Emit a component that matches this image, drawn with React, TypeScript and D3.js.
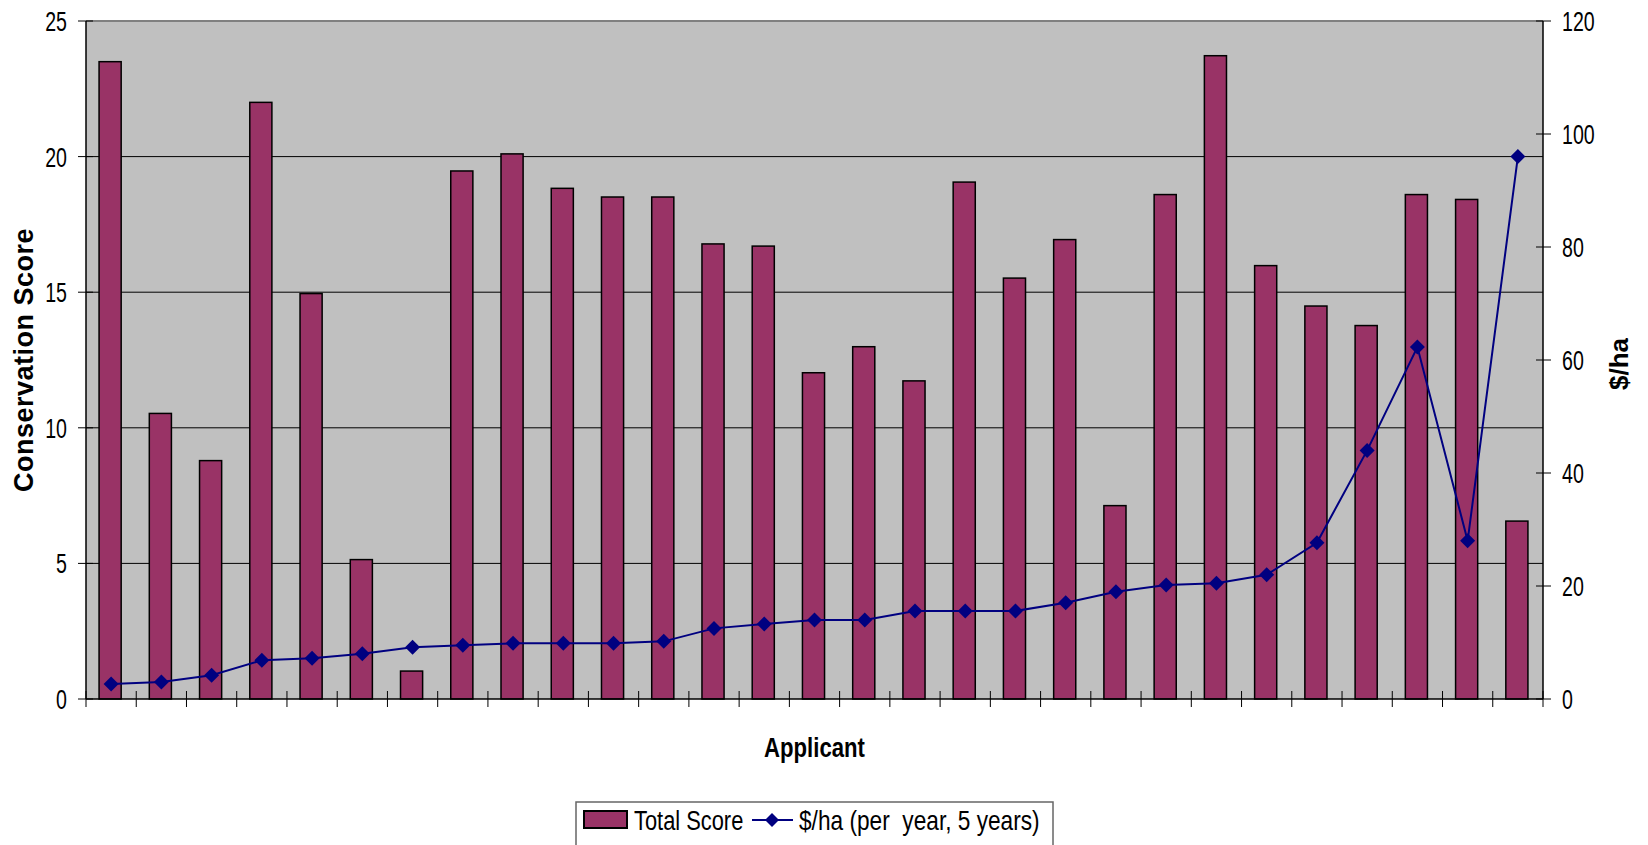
import React from "react";
import * as d3 from "d3";

const applicants = [
  "1","2","3","4","5","6","7","8","9","10","11","12","13","14","15",
  "16","17","18","19","20","21","22","23","24","25","26","27","28","29",
];
const totalScore = [
  23.5, 10.53, 8.79, 22.0, 14.95, 5.14, 1.03, 19.47, 20.1, 18.83, 18.51, 18.51,
  16.78, 16.7, 12.03, 12.99, 11.73, 19.06, 15.52, 16.94, 7.13, 18.6, 23.72,
  15.98, 14.49, 13.77, 18.6, 18.42, 6.56,
];
const dollarsPerHa = [
  2.65, 3.0, 4.19, 6.85, 7.2, 8.0, 9.15, 9.5, 9.86, 9.86, 9.86, 10.2, 12.5,
  13.27, 13.98, 13.98, 15.58, 15.58, 15.58, 17.05, 19.0, 20.18, 20.47, 22.0,
  27.66, 44.0, 62.3, 28.0, 96.0,
];
const leftTicks = [0, 5, 10, 15, 20, 25];
const rightTicks = [0, 20, 40, 60, 80, 100, 120];
const barLabel = "Total Score";
const lineLabel = "$/ha (per  year, 5 years)";
const yTitleLeft = "Conservation Score";
const yTitleRight = "$/ha";
const xTitle = "Applicant";

const W = 1648;
const H = 845;
const L = 86;
const R = 1543;
const T = 21;
const B = 699;
const FONT = "'Liberation Sans', Arial, sans-serif";
const BAR = "#993366";
const NAVY = "#000080";

function Txt(props: {
  x: number;
  y: number;
  sx?: number;
  size?: number;
  anchor?: string;
  bold?: boolean;
  rotate?: number;
  spacing?: number;
  children: React.ReactNode;
}) {
  const { x, y, sx = 0.7, size = 28, anchor = "start", bold, rotate = 0, spacing = 0 } = props;
  return (
    <text
      transform={`translate(${x},${y}) rotate(${rotate}) scale(${sx},1)`}
      textAnchor={anchor}
      fontFamily={FONT}
      fontSize={size}
      fontWeight={bold ? "bold" : "normal"}
      letterSpacing={spacing}
      fill="#000"
      style={{ whiteSpace: "pre" }}
    >
      {props.children}
    </text>
  );
}

function diamond(cx: number, cy: number, r: number) {
  return `M${cx},${cy - r}L${cx + r},${cy}L${cx},${cy + r}L${cx - r},${cy}Z`;
}

export default function App() {
  const x = d3.scaleBand<string>().domain(applicants).range([L, R]).padding(0);
  const bw = x.bandwidth();
  const barW = bw * 0.44;
  const yL = d3.scaleLinear().domain([0, 25]).range([B, T]);
  const yR = d3.scaleLinear().domain([0, 120]).range([B, T]);
  const cx = (a: string) => (x(a) as number) + bw / 2;

  const line = d3
    .line<number>()
    .x((_, i) => cx(applicants[i]))
    .y((d) => yR(d));

  return (
    <svg
      width={W}
      height={H}
      style={{ position: "absolute", left: 0, top: 0, background: "#fff" }}
    >
      {/* plot background */}
      <rect x={L} y={T} width={R - L} height={B - T} fill="#C0C0C0" />
      {/* gridlines */}
      {leftTicks
        .filter((t) => t > 0 && t < 25)
        .map((t) => (
          <line key={t} x1={L} x2={R} y1={yL(t)} y2={yL(t)} stroke="#000" strokeWidth={1} />
        ))}
      {/* top border */}
      <line x1={L} x2={R} y1={T} y2={T} stroke="#808080" strokeWidth={2} />

      {/* bars */}
      {totalScore.map((v, i) => {
        const a = applicants[i];
        return (
          <rect
            key={a}
            x={cx(a) - barW / 2 - 1}
            y={yL(v)}
            width={barW}
            height={B - yL(v)}
            fill={BAR}
            stroke="#000"
            strokeWidth={1.5}
          />
        );
      })}

      {/* axes */}
      <line x1={L} x2={L} y1={T} y2={B} stroke="#000" strokeWidth={1.5} />
      <line x1={R} x2={R} y1={T} y2={B} stroke="#000" strokeWidth={1.5} />
      <line x1={L} x2={R} y1={B} y2={B} stroke="#000" strokeWidth={1.5} />

      {/* x ticks at band boundaries */}
      {applicants.concat(["end"]).map((a, i) => {
        const xx = i < applicants.length ? (x(a) as number) : R;
        return <line key={"xt" + i} x1={xx} x2={xx} y1={691} y2={707} stroke="#000" strokeWidth={1} />;
      })}

      {/* left ticks */}
      {leftTicks.map((t) => (
        <g key={"lt" + t}>
          <line x1={L - 8} x2={L + 7} y1={yL(t)} y2={yL(t)} stroke="#000" strokeWidth={1} />
          <Txt x={67} y={yL(t) + 10} anchor="end">
            {t}
          </Txt>
        </g>
      ))}
      {/* right ticks */}
      {rightTicks.map((t) => (
        <g key={"rt" + t}>
          <line x1={R - 7} x2={R + 8} y1={yR(t)} y2={yR(t)} stroke="#000" strokeWidth={1} />
          <Txt x={1562} y={yR(t) + 10} anchor="start">
            {t}
          </Txt>
        </g>
      ))}

      {/* line series */}
      <path d={line(dollarsPerHa) || ""} fill="none" stroke={NAVY} strokeWidth={2} />
      {dollarsPerHa.map((v, i) => (
        <path key={"m" + i} d={diamond(cx(applicants[i]), yR(v), 7.5)} fill={NAVY} />
      ))}

      {/* titles */}
      <Txt x={33} y={(T + B) / 2} rotate={-90} anchor="middle" bold size={27} sx={1} spacing={0.5}>
        {yTitleLeft}
      </Txt>
      <Txt x={1628} y={(T + B) / 2 + 4} rotate={-90} anchor="middle" bold size={26} sx={1}>
        {yTitleRight}
      </Txt>
      <Txt x={(L + R) / 2} y={757} anchor="middle" bold size={27} sx={0.82}>
        {xTitle}
      </Txt>

      {/* legend */}
      <rect x={576} y={802} width={477} height={60} fill="#fff" stroke="#666" strokeWidth={1.5} />
      <rect x={584} y={811} width={43} height={17} fill={BAR} stroke="#000" strokeWidth={2} />
      <Txt x={634} y={830} size={27} sx={0.81}>
        {barLabel}
      </Txt>
      <line x1={752} x2={793} y1={820} y2={820} stroke={NAVY} strokeWidth={2} />
      <path d={diamond(772, 820, 7)} fill={NAVY} />
      <Txt x={799} y={830} size={27} sx={0.84}>
        {lineLabel}
      </Txt>
    </svg>
  );
}
